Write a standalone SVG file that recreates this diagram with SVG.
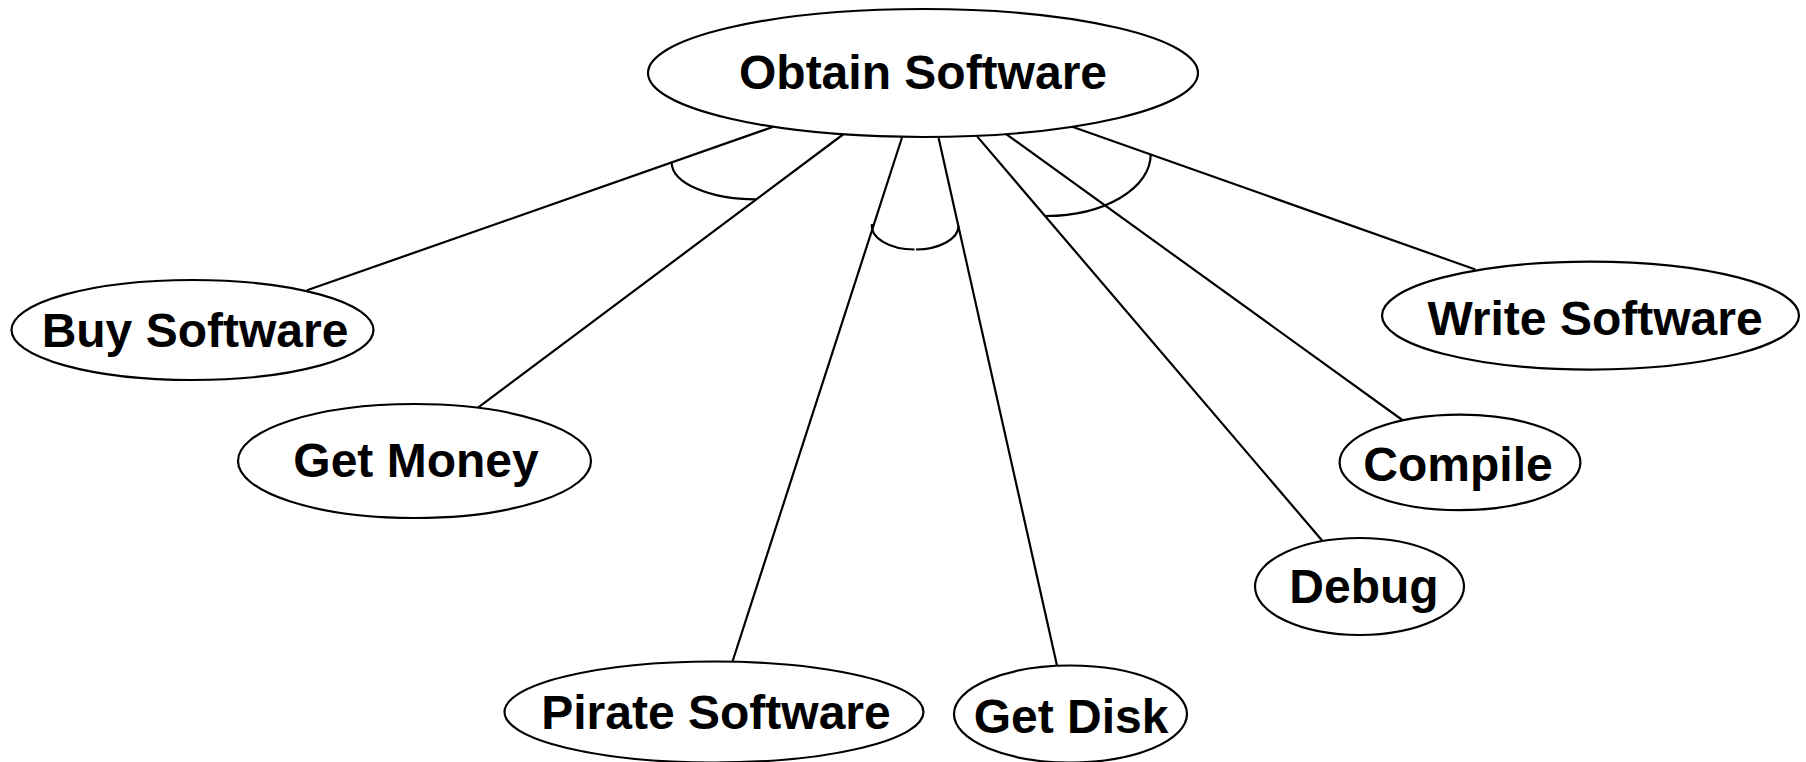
<svg xmlns="http://www.w3.org/2000/svg" width="1806" height="762" viewBox="0 0 1806 762">
<style>
.n ellipse{fill:#fff;stroke:#000;stroke-width:2.2}
.n text{font-family:"Liberation Sans",Arial,sans-serif;font-weight:bold;font-size:48px;text-anchor:middle;fill:#000}
.c line,.c path{stroke:#000;stroke-width:2.2;fill:none}
</style>
<rect width="1806" height="762" fill="#fff"/>
<g id="connectors" class="c">
<line x1="773.5" y1="126.7" x2="307" y2="290.3"/>
<line x1="843" y1="134.5" x2="478" y2="407.7"/>
<line x1="902" y1="137.5" x2="732.5" y2="661.5"/>
<line x1="938.5" y1="137.5" x2="1057" y2="665.5"/>
<line x1="976.7" y1="135.9" x2="1322.5" y2="541"/>
<line x1="1005.5" y1="133.6" x2="1403" y2="420.5"/>
<line x1="1072.3" y1="126.7" x2="1475.4" y2="269.5"/>
<path d="M671.7 162.4 A84.3 37 0 0 0 756 199.4"/>
<path d="M872 224 A43 23.5 0 0 0 914.5 249.5"/>
<path d="M916 249.5 A43 23.5 0 0 0 958.5 226"/>
<path d="M1150.7 154.5 A104.7 61.5 0 0 1 1046 216"/>
</g>
<g id="obtain-software" class="n"><ellipse cx="923" cy="73" rx="275" ry="64"/><text x="923" y="89">Obtain Software</text></g>
<g id="buy-software" class="n"><ellipse cx="192.5" cy="330" rx="181" ry="50"/><text x="195" y="347">Buy Software</text></g>
<g id="get-money" class="n"><ellipse cx="414.5" cy="461" rx="176.5" ry="57"/><text x="416" y="477">Get Money</text></g>
<g id="pirate-software" class="n"><ellipse cx="714" cy="712" rx="209.5" ry="50.5"/><text x="716" y="729">Pirate Software</text></g>
<g id="get-disk" class="n"><ellipse cx="1070.5" cy="714" rx="116.5" ry="48.5"/><text x="1071" y="733">Get Disk</text></g>
<g id="write-software" class="n"><ellipse cx="1590.5" cy="315.6" rx="208.5" ry="54"/><text x="1595" y="335">Write Software</text></g>
<g id="compile" class="n"><ellipse cx="1460" cy="462.4" rx="120.4" ry="47.8"/><text x="1458" y="481">Compile</text></g>
<g id="debug" class="n"><ellipse cx="1359.5" cy="586.5" rx="104.5" ry="48.5"/><text x="1364" y="603">Debug</text></g>
</svg>
